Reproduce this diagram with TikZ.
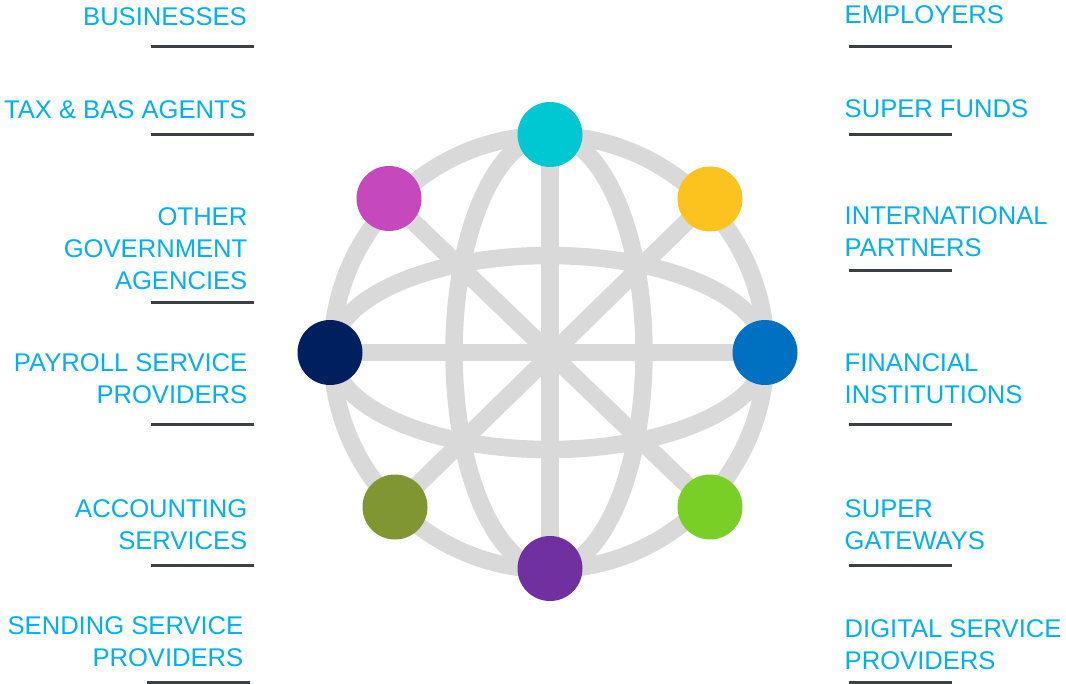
\documentclass[tikz,border=0pt]{standalone}
\usepackage{fontspec}
\setmainfont{Liberation Sans}
\usetikzlibrary{backgrounds}
\definecolor{txtblue}{RGB}{0,176,240}
\definecolor{globegray}{RGB}{217,217,217}
\definecolor{rulegray}{RGB}{59,64,69}
\definecolor{hubcyan}{RGB}{0,200,211}
\definecolor{hubyellow}{RGB}{252,194,30}
\definecolor{hubblue}{RGB}{0,112,192}
\definecolor{hublime}{RGB}{122,207,39}
\definecolor{hubpurple}{RGB}{112,48,160}
\definecolor{hubolive}{RGB}{127,150,50}
\definecolor{hubnavy}{RGB}{0,31,95}
\definecolor{hubpink}{RGB}{197,72,189}

\begin{document}
\begin{tikzpicture}[x=1pt,y=-1pt]
  \tikzstyle{dot}=[circle, draw=none, minimum size=65pt, inner sep=0pt]
  \tikzstyle{lab}=[text=txtblue, inner sep=0pt, font=\fontsize{25.6}{32}\selectfont]
  \tikzstyle{wire}=[draw=globegray, line width=17.5pt]
  \tikzstyle{rule}=[draw=rulegray, line width=3pt]

  \useasboundingbox (0,0) rectangle (1066,684);

  % globe
  \coordinate (O) at (549,352.5);
  \node[dot, fill=hubcyan]   (N)  at (550,134.5) {};
  \node[dot, fill=hubyellow] (NE) at (710,199)   {};
  \node[dot, fill=hubblue]   (E)  at (765,352.5) {};
  \node[dot, fill=hublime]   (SE) at (710,507)   {};
  \node[dot, fill=hubpurple] (S)  at (550,568.5) {};
  \node[dot, fill=hubolive]  (SW) at (395,507)   {};
  \node[dot, fill=hubnavy]   (W)  at (330,352.5) {};
  \node[dot, fill=hubpink]   (NW) at (389,198.5) {};

  \begin{scope}[on background layer]
    \draw[wire] (O) circle[radius=217];
    \draw[wire] (O) ellipse[x radius=217, y radius=97];
    \draw[wire] (O) ellipse[x radius=95, y radius=217];
    \path[wire] (N.center)  edge (S.center)
                (W.center)  edge (E.center)
                (NW.center) edge (SE.center)
                (NE.center) edge (SW.center);
  \end{scope}

  % left labels
  \node[lab, anchor=south east, align=right] (biz) at (247,26)    {BUSINESSES};
  \node[lab, anchor=south east, align=right] (tax) at (247,118.5) {TAX \& BAS AGENTS};
  \node[lab, anchor=south east, align=right] (oga) at (247.5,290)   {OTHER\\GOVERNMENT\\AGENCIES};
  \node[lab, anchor=south east, align=right] (psp) at (247.5,403.5) {PAYROLL SERVICE\\PROVIDERS};
  \node[lab, anchor=south east, align=right] (acc) at (247.5,549.5) {ACCOUNTING\\SERVICES};
  \node[lab, anchor=south east, align=right] (ssp) at (243.5,666.5) {SENDING SERVICE\\PROVIDERS};

  % right labels
  \node[lab, anchor=south west, align=left] (emp) at (844.5,24)    {EMPLOYERS};
  \node[lab, anchor=south west, align=left] (suf) at (844.5,117.5) {SUPER FUNDS};
  \node[lab, anchor=south west, align=left] (int) at (844.5,257)   {INTERNATIONAL\\PARTNERS};
  \node[lab, anchor=south west, align=left] (fin) at (844.5,404)   {FINANCIAL\\INSTITUTIONS};
  \node[lab, anchor=south west, align=left] (sgw) at (844.5,550)   {SUPER\\GATEWAYS};
  \node[lab, anchor=south west, align=left] (dsp) at (844.5,670)   {DIGITAL SERVICE\\PROVIDERS};

  % underlines
  \foreach \y in {46.5,134.5,302.5,424.5,565} {
    \draw[rule] (151,\y) -- (254,\y);
  }
  \draw[rule] (147,682) -- (250,682);
  \foreach \y in {46.5,134.5,270.5,425,565,682} {
    \draw[rule] (849,\y) -- (952,\y);
  }
\end{tikzpicture}
\end{document}
